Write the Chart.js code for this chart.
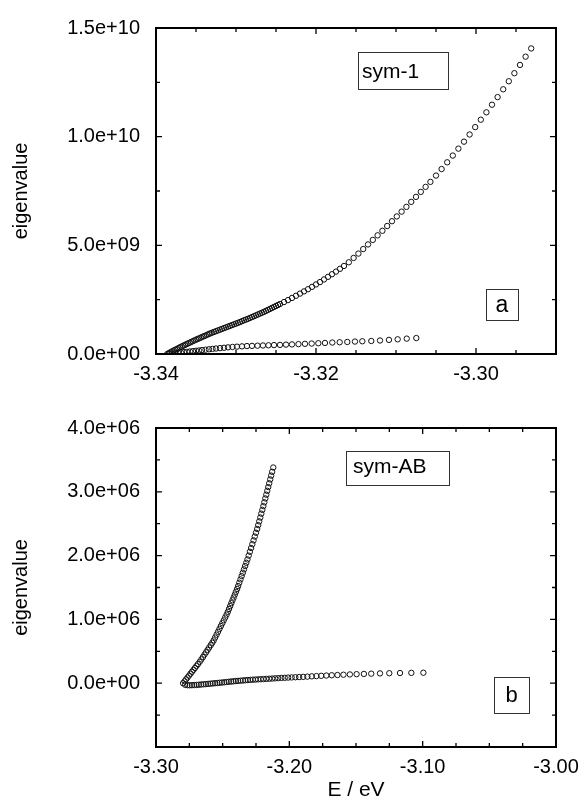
<!DOCTYPE html>
<html>
<head>
<meta charset="utf-8">
<script src="https://cdn.jsdelivr.net/npm/chart.js@4.4.0/dist/chart.umd.min.js"></script>
<style>
  html, body { margin: 0; padding: 0; background: #fff; overflow: hidden; }
  #page { position: relative; width: 581px; height: 803px; overflow: hidden; }
  canvas { position: absolute; left: 0; }
  #chartA { top: 0; }
  #chartB { top: 400px; }
</style>
</head>
<body>
<div id="page">
  <canvas id="chartA" width="620" height="400"></canvas>
  <canvas id="chartB" width="620" height="403"></canvas>
</div>
<script>
// Panel a (sym-1): upper and lower branch, E in eV
const sym1UpperE = [
  -3.3386, -3.3384, -3.3382, -3.3380, -3.3378, -3.3376, -3.3374, -3.3372, -3.3370, -3.3368,
  -3.3366, -3.3364, -3.3362, -3.3360, -3.3358, -3.3356, -3.3354, -3.3352, -3.3350, -3.3348,
  -3.3346, -3.3344, -3.3342, -3.3340, -3.3338, -3.3336, -3.3334, -3.3332, -3.3330,
  -3.33275, -3.3325, -3.33225, -3.3320, -3.33175, -3.3315, -3.33125, -3.3310, -3.33075, -3.3305,
  -3.33025, -3.3300, -3.32975, -3.3295, -3.32925, -3.3290, -3.32875, -3.3285, -3.32825, -3.3280,
  -3.32775, -3.3275, -3.32725, -3.3270, -3.32675, -3.3265, -3.32625, -3.3260, -3.32575, -3.3255,
  -3.32525, -3.3250, -3.32475, -3.3245,
  -3.3240, -3.3235, -3.3230, -3.3225, -3.3220, -3.3215, -3.3210, -3.3205, -3.3200, -3.3195, -3.3190, -3.3185, -3.3180, -3.3175, -3.3170, -3.3165,
  -3.3159, -3.3153, -3.3147, -3.3141, -3.3135, -3.3129, -3.3123, -3.3117, -3.3111, -3.3105, -3.3099, -3.3093, -3.3087, -3.3081, -3.3075, -3.3069, -3.3063, -3.3057,
  -3.3050, -3.3043, -3.3036, -3.3029, -3.3022, -3.3015, -3.3008, -3.3001, -3.2994, -3.2987, -3.2980, -3.2973, -3.2966, -3.2959, -3.2952, -3.2945, -3.2938, -3.2931
];
const sym1UpperEig = [
  0.00e9, 0.04e9, 0.08e9, 0.12e9, 0.16e9, 0.195e9, 0.23e9, 0.27e9, 0.31e9, 0.345e9,
  0.38e9, 0.415e9, 0.45e9, 0.485e9, 0.52e9, 0.555e9, 0.59e9, 0.625e9, 0.66e9, 0.69e9,
  0.72e9, 0.755e9, 0.79e9, 0.82e9, 0.85e9, 0.885e9, 0.92e9, 0.95e9, 0.98e9,
  1.015e9, 1.05e9, 1.085e9, 1.12e9, 1.155e9, 1.19e9, 1.225e9, 1.26e9, 1.295e9, 1.33e9,
  1.365e9, 1.40e9, 1.435e9, 1.47e9, 1.51e9, 1.55e9, 1.585e9, 1.62e9, 1.66e9, 1.70e9,
  1.74e9, 1.78e9, 1.82e9, 1.86e9, 1.90e9, 1.94e9, 1.985e9, 2.03e9, 2.075e9, 2.12e9,
  2.165e9, 2.21e9, 2.255e9, 2.30e9,
  2.39e9, 2.48e9, 2.58e9, 2.68e9, 2.78e9, 2.88e9, 2.98e9, 3.09e9, 3.20e9, 3.31e9, 3.43e9, 3.55e9, 3.67e9, 3.79e9, 3.92e9, 4.05e9,
  4.22e9, 4.42e9, 4.62e9, 4.83e9, 5.04e9, 5.25e9, 5.46e9, 5.67e9, 5.89e9, 6.11e9, 6.33e9, 6.55e9, 6.77e9, 7.00e9, 7.23e9, 7.46e9, 7.69e9, 7.92e9,
  8.21e9, 8.51e9, 8.82e9, 9.13e9, 9.45e9, 9.77e9, 10.10e9, 10.44e9, 10.78e9, 11.12e9, 11.47e9, 11.82e9, 12.18e9, 12.55e9, 12.92e9, 13.30e9, 13.68e9, 14.06e9
];
const sym1LowerE = [
  -3.33838, -3.33800, -3.33763, -3.33725, -3.33688, -3.33650, -3.33613, -3.33575, -3.33538, -3.33500,
  -3.33463, -3.33425, -3.33381, -3.33338, -3.33294, -3.33250, -3.33200, -3.33150, -3.33100, -3.33044,
  -3.32988, -3.32925, -3.32863, -3.32800, -3.32731, -3.32663, -3.32594, -3.32525, -3.32450, -3.32375,
  -3.32300, -3.32219, -3.32138, -3.32054, -3.31971, -3.31888, -3.31796, -3.31704, -3.31609, -3.31513,
  -3.31421, -3.31309, -3.31200, -3.31088, -3.30979, -3.30866, -3.30746
];
const sym1LowerEig = [
  0.009e9, 0.023e9, 0.036e9, 0.054e9, 0.068e9, 0.086e9, 0.099e9, 0.117e9, 0.131e9, 0.149e9,
  0.162e9, 0.180e9, 0.198e9, 0.216e9, 0.234e9, 0.252e9, 0.270e9, 0.288e9, 0.306e9, 0.324e9,
  0.338e9, 0.351e9, 0.365e9, 0.374e9, 0.383e9, 0.392e9, 0.401e9, 0.410e9, 0.419e9, 0.432e9,
  0.441e9, 0.455e9, 0.468e9, 0.482e9, 0.495e9, 0.509e9, 0.527e9, 0.541e9, 0.554e9, 0.572e9,
  0.586e9, 0.599e9, 0.622e9, 0.649e9, 0.676e9, 0.707e9, 0.734e9
];

// Panel b (sym-AB)
const symABUpperE = [
  -3.27970, -3.27859, -3.27747, -3.27636, -3.27524, -3.27413, -3.27302, -3.27190, -3.27079, -3.26968,
  -3.26856, -3.26720, -3.26598, -3.26480, -3.26362, -3.26245, -3.26128, -3.26011, -3.25892, -3.25775,
  -3.25671, -3.25564, -3.25456, -3.25349, -3.25241, -3.25135, -3.25027, -3.24920, -3.24812, -3.24704,
  -3.24610, -3.24523, -3.24436, -3.24350, -3.24262, -3.24176, -3.24089, -3.24002, -3.23916, -3.23840,
  -3.23752, -3.23664, -3.23577, -3.23489, -3.23401, -3.23314, -3.23226, -3.23140, -3.23049, -3.22957,
  -3.22866, -3.22775, -3.22684, -3.22593, -3.22502, -3.22411, -3.22333, -3.22256, -3.22178, -3.22102,
  -3.22024, -3.21947, -3.21874, -3.21801, -3.21728, -3.21654, -3.21580, -3.21508, -3.21434, -3.21361,
  -3.21287, -3.21205
];
const symABUpperEig = [
  0, 0.030e6, 0.060e6, 0.090e6, 0.119e6, 0.149e6, 0.179e6, 0.209e6, 0.239e6, 0.269e6,
  0.299e6, 0.336e6, 0.373e6, 0.410e6, 0.448e6, 0.485e6, 0.522e6, 0.560e6, 0.597e6, 0.634e6,
  0.672e6, 0.716e6, 0.761e6, 0.806e6, 0.851e6, 0.896e6, 0.940e6, 0.985e6, 1.030e6, 1.075e6,
  1.119e6, 1.164e6, 1.209e6, 1.254e6, 1.299e6, 1.343e6, 1.388e6, 1.433e6, 1.478e6, 1.522e6,
  1.575e6, 1.627e6, 1.679e6, 1.731e6, 1.784e6, 1.836e6, 1.888e6, 1.940e6, 2.000e6, 2.060e6,
  2.119e6, 2.179e6, 2.239e6, 2.299e6, 2.358e6, 2.418e6, 2.478e6, 2.537e6, 2.597e6, 2.657e6,
  2.716e6, 2.776e6, 2.836e6, 2.896e6, 2.955e6, 3.015e6, 3.075e6, 3.134e6, 3.194e6, 3.254e6,
  3.313e6, 3.381e6
];
const symABLowerE = [
  -3.27820, -3.27647, -3.27474, -3.27301, -3.27128, -3.26955, -3.26782, -3.26609, -3.26436, -3.26263,
  -3.26090, -3.25917, -3.25744, -3.25571, -3.25398, -3.25226, -3.25053, -3.24880, -3.24707, -3.24534,
  -3.24361, -3.24188, -3.24015, -3.23842, -3.23662, -3.23481, -3.23301, -3.23113, -3.22925, -3.22737,
  -3.22541, -3.22346, -3.22143, -3.21940, -3.21729, -3.21511, -3.21293, -3.21068, -3.20835, -3.20594,
  -3.20346, -3.20090, -3.19827, -3.19549, -3.19263, -3.18962, -3.18647, -3.18316, -3.17970, -3.17609,
  -3.17226, -3.16820, -3.16391, -3.15940, -3.15459, -3.14955, -3.14406, -3.13857, -3.13203, -3.12504,
  -3.11699, -3.10850, -3.09947
];
const symABLowerEig = [
  -23900, -31300, -32800, -31300, -29100, -26900, -23900, -20100, -17200, -14200,
  -10400, -7500, -3700, 0, 3000, 6700, 10400, 14900, 18700, 22400,
  26100, 29900, 33600, 36600, 39600, 42500, 46300, 49300, 52200, 55200,
  57500, 59700, 62700, 64900, 67900, 70100, 73100, 76100, 79100, 82800,
  85100, 88100, 90300, 93300, 96300, 99300, 103000, 107500, 111200, 115700,
  120100, 124600, 128400, 132800, 137300, 141800, 145500, 149300, 153700, 156700,
  159700, 161900, 164200
];

// Labelled (major) ticks
const sym1XMajor = [-3.34, -3.32, -3.30];
const sym1XLabels = ['-3.34', '-3.32', '-3.30'];
const sym1YMajor = [0, 5e9, 1e10, 1.5e10];
const sym1YLabels = ['0.0e+00', '5.0e+09', '1.0e+10', '1.5e+10'];
const symABXMajor = [-3.30, -3.20, -3.10, -3.00];
const symABXLabels = ['-3.30', '-3.20', '-3.10', '-3.00'];
const symABYMajor = [0, 1e6, 2e6, 3e6, 4e6];
const symABYLabels = ['0.0e+00', '1.0e+06', '2.0e+06', '3.0e+06', '4.0e+06'];

const FONT = '"Liberation Sans", Arial, Helvetica, sans-serif';
Chart.defaults.font.family = FONT;
Chart.defaults.color = '#000';

function pickLabel(majors, labels, tol) {
  return function (value) {
    const i = majors.findIndex(m => Math.abs(m - value) < tol);
    return i < 0 ? '' : labels[i];
  };
}

function toPoints(xs, ys) {
  return xs.map((x, i) => ({ x: x, y: ys[i] }));
}

function markerSet(data) {
  return {
    data: data,
    showLine: false,
    pointStyle: 'circle',
    pointRadius: 2.7,
    pointBorderWidth: 1,
    pointBorderColor: '#111',
    pointBackgroundColor: 'rgba(255,255,255,0)',
    borderColor: '#111',
    backgroundColor: 'rgba(255,255,255,0)'
  };
}

// Frame, inward tick marks and the small label boxes
const framePlugin = {
  id: 'frame',
  afterDraw(chart, args, opts) {
    const { ctx, chartArea: a } = chart;
    const xs = chart.scales.x, ys = chart.scales.y;
    ctx.save();
    ctx.strokeStyle = '#000';
    ctx.lineWidth = 1.3;
    ctx.beginPath();
    xs.ticks.forEach(t => {
      const px = xs.getPixelForValue(t.value);
      if (px <= a.left + 1 || px >= a.right - 1) return;
      const len = t.label ? 6 : 4;
      ctx.moveTo(px, a.bottom); ctx.lineTo(px, a.bottom - len);
      ctx.moveTo(px, a.top); ctx.lineTo(px, a.top + len);
    });
    ys.ticks.forEach(t => {
      const py = ys.getPixelForValue(t.value);
      if (py <= a.top + 1 || py >= a.bottom - 1) return;
      const len = t.label ? 6 : 4;
      ctx.moveTo(a.left, py); ctx.lineTo(a.left + len, py);
      ctx.moveTo(a.right, py); ctx.lineTo(a.right - len, py);
    });
    ctx.stroke();
    ctx.lineWidth = 2;
    ctx.strokeRect(a.left, a.top, a.right - a.left, a.bottom - a.top);

    (opts.boxes || []).forEach(b => {
      ctx.fillStyle = '#fff';
      ctx.fillRect(b.x1, b.y1, b.x2 - b.x1, b.y2 - b.y1);
      ctx.lineWidth = 1;
      ctx.strokeStyle = '#333';
      ctx.strokeRect(b.x1 + 0.5, b.y1 + 0.5, b.x2 - b.x1, b.y2 - b.y1);
      ctx.fillStyle = '#000';
      ctx.font = b.size + 'px ' + FONT;
      ctx.textBaseline = 'alphabetic';
      ctx.textAlign = b.center ? 'center' : 'left';
      ctx.fillText(b.text, b.tx, b.ty);
    });
    ctx.restore();
  }
};

function makeChart(id, cfg) {
  return new Chart(document.getElementById(id), {
    type: 'scatter',
    data: { datasets: cfg.datasets },
    options: {
      responsive: false,
      animation: false,
      events: [],
      layout: { padding: cfg.padding },
      plugins: {
        legend: { display: false },
        tooltip: { enabled: false },
        frame: { boxes: cfg.boxes }
      },
      scales: {
        x: {
          type: 'linear',
          min: cfg.xMin,
          max: cfg.xMax,
          afterFit: s => { s.height = cfg.xHeight; },
          grid: { display: false, drawTicks: false },
          border: { display: false },
          ticks: {
            stepSize: cfg.xStep,
            autoSkip: false,
            maxRotation: 0,
            padding: 8,
            font: { size: 20 },
            callback: cfg.xLabel
          },
          title: cfg.xTitle
        },
        y: {
          type: 'linear',
          min: cfg.yMin,
          max: cfg.yMax,
          afterFit: s => { s.width = 156; },
          grid: { display: false, drawTicks: false },
          border: { display: false },
          ticks: {
            stepSize: cfg.yStep,
            autoSkip: false,
            padding: 16,
            font: { size: 20 },
            callback: cfg.yLabel
          },
          title: {
            display: true,
            text: 'eigenvalue',
            font: { size: 20 },
            padding: { top: 9, bottom: 0 }
          }
        }
      }
    },
    plugins: [framePlugin]
  });
}

makeChart('chartA', {
  datasets: [
    markerSet(toPoints(sym1UpperE, sym1UpperEig)),
    markerSet(toPoints(sym1LowerE, sym1LowerEig))
  ],
  padding: { top: 21, right: 64, left: 0, bottom: 0 },
  xMin: -3.34, xMax: -3.29, xStep: 0.005, xHeight: 46,
  xLabel: pickLabel(sym1XMajor, sym1XLabels, 1e-4),
  xTitle: { display: false },
  yMin: 0, yMax: 1.5e10, yStep: 2.5e9,
  yLabel: pickLabel(sym1YMajor, sym1YLabels, 1e7),
  boxes: [
    { x1: 358, y1: 52, x2: 448, y2: 89, text: 'sym-1', tx: 362, ty: 78, size: 21 },
    { x1: 486, y1: 289, x2: 518, y2: 320, text: 'a', tx: 502, ty: 312, size: 23, center: true }
  ]
});

makeChart('chartB', {
  datasets: [
    markerSet(toPoints(symABUpperE, symABUpperEig)),
    markerSet(toPoints(symABLowerE, symABLowerEig))
  ],
  padding: { top: 13, right: 64, left: 0, bottom: 0 },
  xMin: -3.30, xMax: -3.00, xStep: 0.025, xHeight: 56,
  xLabel: pickLabel(symABXMajor, symABXLabels, 1e-4),
  xTitle: { display: true, text: 'E / eV', font: { size: 21 }, padding: { top: 0, bottom: 0 } },
  yMin: -1e6, yMax: 4e6, yStep: 5e5,
  yLabel: pickLabel(symABYMajor, symABYLabels, 1e2),
  boxes: [
    { x1: 346, y1: 51, x2: 449, y2: 85, text: 'sym-AB', tx: 353, ty: 73, size: 21 },
    { x1: 494, y1: 277, x2: 529, y2: 313, text: 'b', tx: 511.5, ty: 302, size: 22, center: true }
  ]
});
</script>
</body>
</html>
